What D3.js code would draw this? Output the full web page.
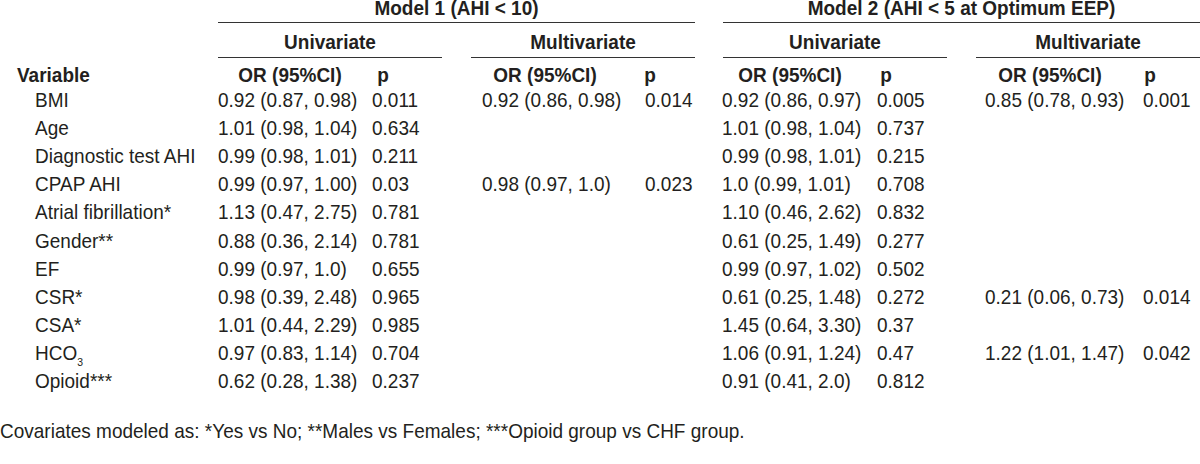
<!DOCTYPE html>
<html><head><meta charset="utf-8">
<script src="https://cdn.jsdelivr.net/npm/d3@7"></script>
<style>
html,body{margin:0;padding:0;background:#fff;}
svg text{font-family:"Liberation Sans",Arial,sans-serif;fill:#231f20;}
</style></head>
<body>
<svg id="c" width="1200" height="464"></svg>
<script>
const models = ["Model 1 (AHI < 10)", "Model 2 (AHI < 5 at Optimum EEP)"];
const analyses = ["Univariate", "Multivariate"];
const columnHeads = ["OR (95%CI)", "p"];
const variables = ["BMI","Age","Diagnostic test AHI","CPAP AHI","Atrial fibrillation*","Gender**","EF","CSR*","CSA*","HCO3","Opioid***"];
const m1UniOR = ["0.92 (0.87, 0.98)","1.01 (0.98, 1.04)","0.99 (0.98, 1.01)","0.99 (0.97, 1.00)","1.13 (0.47, 2.75)","0.88 (0.36, 2.14)","0.99 (0.97, 1.0)","0.98 (0.39, 2.48)","1.01 (0.44, 2.29)","0.97 (0.83, 1.14)","0.62 (0.28, 1.38)"];
const m1UniP = ["0.011","0.634","0.211","0.03","0.781","0.781","0.655","0.965","0.985","0.704","0.237"];
const m1MultiOR = ["0.92 (0.86, 0.98)","","","0.98 (0.97, 1.0)","","","","","","",""];
const m1MultiP = ["0.014","","","0.023","","","","","","",""];
const m2UniOR = ["0.92 (0.86, 0.97)","1.01 (0.98, 1.04)","0.99 (0.98, 1.01)","1.0 (0.99, 1.01)","1.10 (0.46, 2.62)","0.61 (0.25, 1.49)","0.99 (0.97, 1.02)","0.61 (0.25, 1.48)","1.45 (0.64, 3.30)","1.06 (0.91, 1.24)","0.91 (0.41, 2.0)"];
const m2UniP = ["0.005","0.737","0.215","0.708","0.832","0.277","0.502","0.272","0.37","0.47","0.812"];
const m2MultiOR = ["0.85 (0.78, 0.93)","","","","","","","0.21 (0.06, 0.73)","","1.22 (1.01, 1.47)",""];
const m2MultiP = ["0.001","","","","","","","0.014","","0.042",""];
const footnote = "Covariates modeled as: *Yes vs No; **Males vs Females; ***Opioid group vs CHF group.";

const svg = d3.select("#c");
const FS = 20, SX = 0.95;

function place(sel, fx, fy){
  sel.attr("transform",(d,i)=>`translate(${fx(d,i)},${fy(d,i)}) scale(${SX},1)`)
     .attr("font-size",FS);
  return sel;
}

const cols = [
  {vals:m1UniOR, x:218, hx:290}, {vals:m1UniP, x:372, hx:383},
  {vals:m1MultiOR, x:482, hx:545}, {vals:m1MultiP, x:645, hx:650},
  {vals:m2UniOR, x:722, hx:790}, {vals:m2UniP, x:877, hx:886},
  {vals:m2MultiOR, x:985, hx:1050}, {vals:m2MultiP, x:1143, hx:1150}
];
const y = d3.scalePoint().domain(variables).range([107, 388]);

// model headers
const modelSpans = [[218,695],[723,1200]];
place(svg.selectAll("text.model").data(models).join("text").attr("class","model")
  .attr("text-anchor","middle").attr("font-weight","bold").text(d=>d),
  (d,i)=>(modelSpans[i][0]+modelSpans[i][1])/2, ()=>15);
svg.selectAll("line.model").data(modelSpans).join("line").attr("class","model")
  .attr("x1",d=>d[0]).attr("x2",d=>d[1]).attr("y1",22.5).attr("y2",22.5)
  .attr("stroke","#333").attr("stroke-width",1.2);

// analysis headers
const subSpans = [[218,442],[471,695],[723,947],[976,1200]];
place(svg.selectAll("text.sub").data(subSpans).join("text").attr("class","sub")
  .attr("text-anchor","middle").attr("font-weight","bold")
  .text((d,i)=>analyses[i%2]), d=>(d[0]+d[1])/2, ()=>49);
svg.selectAll("line.sub").data(subSpans).join("line").attr("class","sub")
  .attr("x1",d=>d[0]).attr("x2",d=>d[1]).attr("y1",57.5).attr("y2",57.5)
  .attr("stroke","#333").attr("stroke-width",1.2);

// column headers
place(svg.append("text").attr("font-weight","bold").text("Variable"), ()=>17, ()=>82);
place(svg.selectAll("text.colh").data(cols).join("text").attr("class","colh")
  .attr("text-anchor","middle").attr("font-weight","bold")
  .text((d,i)=>columnHeads[i%2]), d=>d.hx, ()=>82);

// row labels
const labels = place(svg.selectAll("text.var").data(variables).join("text").attr("class","var"),
  ()=>35, d=>y(d));
labels.each(function(d){
  const t = d3.select(this);
  if(d==="HCO3"){
    t.append("tspan").text("HCO");
    t.append("tspan").attr("font-size",11).attr("dy",6).text("3");
  } else t.text(d);
});

// cells
cols.forEach(c=>{
  place(svg.append("g").selectAll("text").data(c.vals).join("text").text(d=>d),
    ()=>c.x, (d,i)=>y(variables[i]));
});

place(svg.append("text").text(footnote), ()=>0, ()=>438);
</script>
</body></html>
